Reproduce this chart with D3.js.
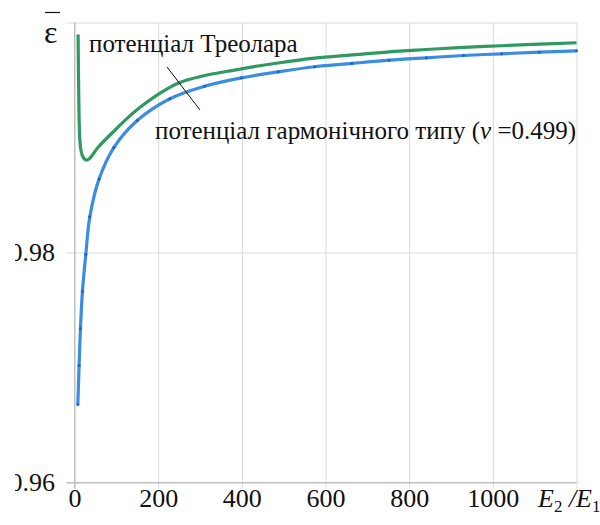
<!DOCTYPE html>
<html>
<head>
<meta charset="utf-8">
<script src="https://cdn.jsdelivr.net/npm/d3@7"></script>
<style>
  body { margin: 0; background: #fff; }
  svg { display: block; }
  svg text { font-family: "Liberation Serif", "Times New Roman", serif !important; }
</style>
</head>
<body>
<script>
// E2/E1 ratio and mean strain
var ratioBlue = [8, 11, 14.3, 19, 27, 36.6, 58.8, 94, 150, 228, 311, 399, 487, 574, 663, 752, 841, 930, 1021, 1111, 1200];
var epsBlue = [0.96678, 0.97017, 0.97339, 0.97664, 0.97983, 0.98310, 0.98640, 0.98913, 0.99148, 0.99337, 0.99446, 0.99519, 0.99571, 0.99615, 0.99644, 0.99672, 0.99693, 0.99713, 0.99728, 0.99742, 0.99754];

var ratioGreen = [8.6, 10.3, 12.7, 16, 21, 28, 36, 56, 96, 156, 252, 399, 487, 574, 663, 752, 841, 930, 1021, 1111, 1200];
var epsGreen = [0.99896, 0.99330, 0.98983, 0.98878, 0.98826, 0.98804, 0.98817, 0.98913, 0.99061, 0.99261, 0.99478, 0.99597, 0.99648, 0.99690, 0.99718, 0.99745, 0.99765, 0.99784, 0.99798, 0.99812, 0.99824];

var xTicks = [0, 200, 400, 600, 800, 1000, 1200];
var xTickLabels = ['0', '200', '400', '600', '800', '1000', ''];
var yTicks = [0.96, 0.98, 1.00];
var yTickLabels = ['0.96', '0.98', ''];

var labelGreen = 'потенціал Треолара';
var labelBlue = 'потенціал гармонічного типу (';
var labelNu = 'ν';
var labelNuValue = ' =0.499)';

var serif = "Liberation Serif";

var x = d3.scaleLinear().domain([0, 1200]).range([74.5, 576.5]);
var y = d3.scaleLinear().domain([0.96, 1.0]).range([482.5, 22.5]);

var svg = d3.select("body").append("svg").attr("width", 600).attr("height", 525);

svg.append("defs").append("clipPath")
    .attr("id", "leftcut")
  .append("rect")
    .attr("x", 15).attr("y", 0).attr("width", 600).attr("height", 525);

// x axis with full-height grid
var xAxis = d3.axisBottom(x)
    .tickValues(xTicks)
    .tickSizeInner(-(482.5 - 22.5))
    .tickSizeOuter(0)
    .tickPadding(6)
    .tickFormat(function(d, i) { return xTickLabels[i]; });

var gx = svg.append("g")
    .attr("transform", "translate(0,482.5)")
    .call(xAxis);
gx.attr("font-family", serif);
gx.select(".domain").remove();
gx.selectAll("line")
    .attr("y1", 6)
    .attr("stroke", function(d) { return d === 0 ? "#bfbfbf" : "#d9d9d9"; })
    .attr("stroke-width", 1);
gx.selectAll("text")
    .style("font-family", serif)
    .style("font-size", "26px")
    .attr("fill", "#111");

// y axis with full-width grid
var yAxis = d3.axisLeft(y)
    .tickValues(yTicks)
    .tickSizeInner(-(576.5 - 74.5))
    .tickSizeOuter(0)
    .tickPadding(19.5)
    .tickFormat(function(d, i) { return yTickLabels[i]; });

var gy = svg.append("g")
    .attr("clip-path", "url(#leftcut)")
  .append("g")
    .attr("transform", "translate(74.5,0)")
    .call(yAxis);
gy.attr("font-family", serif);
gy.select(".domain").remove();
gy.selectAll("line")
    .attr("x1", -8)
    .attr("stroke", function(d) { return d === 0.96 ? "#bfbfbf" : "#d9d9d9"; })
    .attr("stroke-width", 1);
gy.selectAll("text")
    .style("font-family", serif)
    .style("font-size", "26px")
    .attr("fill", "#111");

// axis lines
svg.append("line")
    .attr("x1", x(0)).attr("x2", x(0))
    .attr("y1", y(1.0)).attr("y2", y(0.96) + 6)
    .attr("stroke", "#bfbfbf").attr("stroke-width", 1);
svg.append("line")
    .attr("x1", x(0) - 8).attr("x2", x(1200))
    .attr("y1", y(0.96)).attr("y2", y(0.96))
    .attr("stroke", "#bfbfbf").attr("stroke-width", 1);

var line = d3.line()
    .x(function(d) { return x(d[0]); })
    .y(function(d) { return y(d[1]); })
    .curve(d3.curveCatmullRom.alpha(0.5));

var greenPts = ratioGreen.map(function(d, i) { return [d, epsGreen[i]]; });
var bluePts = ratioBlue.map(function(d, i) { return [d, epsBlue[i]]; });

svg.append("path")
    .datum(greenPts)
    .attr("d", line)
    .attr("fill", "none")
    .attr("stroke", "#2e9960")
    .attr("stroke-width", 3.2)
    .attr("stroke-linejoin", "round");

svg.append("path")
    .datum(bluePts)
    .attr("d", line)
    .attr("fill", "none")
    .attr("stroke", "#3c8ce0")
    .attr("stroke-width", 3.2)
    .attr("stroke-linejoin", "round");

svg.selectAll("circle.blue")
    .data(bluePts)
    .enter().append("circle")
        .attr("class", "blue")
        .attr("cx", function(d) { return x(d[0]); })
        .attr("cy", function(d) { return y(d[1]); })
        .attr("r", 1.5)
        .attr("fill", "#1467cf");

// leader line
svg.append("line")
    .attr("x1", 167).attr("y1", 67)
    .attr("x2", 200).attr("y2", 110)
    .attr("stroke", "#111")
    .attr("stroke-width", 1);

svg.append("text")
    .attr("x", 89)
    .attr("y", 52)
    .style("font-family", serif)
    .style("font-size", "25px")
    .attr("fill", "#111")
    .text(labelGreen);

var t2 = svg.append("text")
    .attr("x", 155)
    .attr("y", 139)
    .style("font-family", serif)
    .style("font-size", "25px")
    .attr("fill", "#111");
t2.append("tspan").text(labelBlue);
t2.append("tspan").style("font-style", "italic").text(labelNu);
t2.append("tspan").text(labelNuValue);

// epsilon with bar
svg.append("text")
    .attr("x", 44)
    .attr("y", 43)
    .style("font-family", serif)
    .style("font-size", "32px")
    .attr("fill", "#111")
    .text("ε");
svg.append("line")
    .attr("x1", 45).attr("x2", 60)
    .attr("y1", 12.5).attr("y2", 12.5)
    .attr("stroke", "#111")
    .attr("stroke-width", 1.2);

// axis title E2 /E1
var t3 = svg.append("text")
    .attr("x", 538)
    .attr("y", 507)
    .style("font-family", serif)
    .style("font-size", "26px")
    .style("font-style", "italic")
    .attr("fill", "#111");
t3.append("tspan").text("E");
t3.append("tspan").style("font-size", "17px").style("font-style", "normal").attr("dy", 5).text("2");
t3.append("tspan").attr("dy", -5).text(" /E");
t3.append("tspan").style("font-size", "17px").style("font-style", "normal").attr("dy", 5).text("1");
</script>
</body>
</html>
